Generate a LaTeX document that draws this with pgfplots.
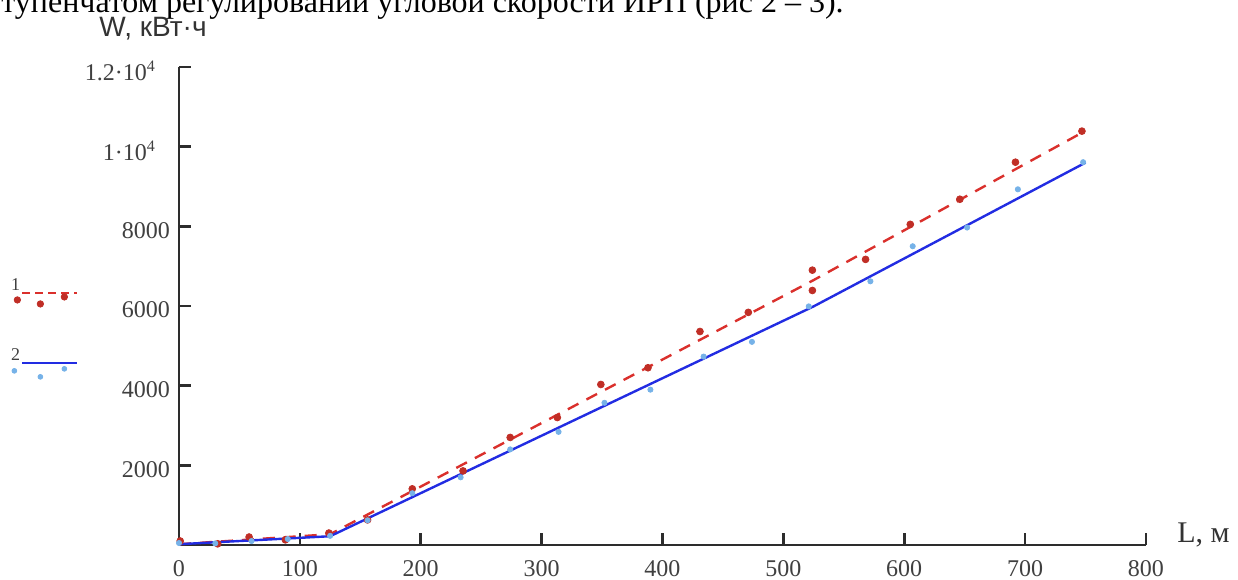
\documentclass[border=0pt]{standalone}
\usepackage{fontspec}
\setmainfont{Liberation Serif}
\newfontfamily\arialfont{Liberation Sans}
\usepackage{pgfplots}
\pgfplotsset{compat=1.18}

\definecolor{redline}{RGB}{218,48,44}
\definecolor{reddot}{RGB}{192,46,38}
\definecolor{blueline}{RGB}{34,44,226}
\definecolor{bluedot}{RGB}{118,178,232}
\definecolor{axgray}{RGB}{45,45,45}

\begin{document}
\begin{tikzpicture}
\useasboundingbox (0,0) rectangle (619pt,289.5pt);
% the cut-off line of body text above the chart
\node[anchor=base west, inner sep=0pt, font=\fontsize{16}{19}\selectfont]
  at (0.5pt,283pt) {тупенчатом регулировании угловой скорости ИРП (рис 2 – 3).};

\begin{axis}[
  at={(89.5pt,17pt)}, anchor=south west,
  scale only axis, width=483.5pt, height=239pt,
  xmin=0, xmax=800, ymin=0, ymax=12000,
  axis lines=left,
  axis line style={-, line width=1.3pt, axgray},
  every tick/.style={line width=1.3pt, axgray},
  xtick align=inside, ytick align=inside, major tick length=6pt,
  scaled y ticks=false, scaled x ticks=false,
  xtick={0,100,200,300,400,500,600,700,800},
  xticklabels={0,100,200,300,400,500,600,700,800},
  ytick={2000,4000,6000,8000,10000,12000},
  yticklabels={2000,4000,6000,8000,{1·10\textsuperscript{4}\rule{7pt}{0pt}},{1.2·10\textsuperscript{4}\rule{7pt}{0pt}}},
  tick label style={font=\fontsize{12}{14}\selectfont, text=black!75},
  xticklabel style={yshift=-4pt},
  yticklabel style={xshift=-1pt, yshift=-2pt},
  clip=false,
  legend plot pos=right,
  legend cell align=right,
  legend style={at={(axis description cs:-0.175,0.5605)}, anchor=north west,
    draw=none, fill=none, inner sep=0pt, row sep=19.5pt, column sep=0pt,
    nodes={inner sep=0.5pt},
    font=\fontsize{9}{10}\selectfont, text=black!75},
]
\addlegendimage{legend image code/.code={
  \draw[redline, line width=1.2pt, dash pattern=on 4pt off 2.5pt] (0pt,0pt) -- (27.5pt,0pt);
  \fill[reddot, overlay] (-2.5pt,-3.5pt) circle (1.6pt);
  \fill[reddot, overlay] (9pt,-5.5pt) circle (1.6pt);
  \fill[reddot, overlay] (21pt,-2pt) circle (1.6pt);}}
\addlegendentry{\raisebox{7pt}{1}}
\addlegendimage{legend image code/.code={
  \draw[blueline, line width=1.2pt] (0pt,0pt) -- (27.5pt,0pt);
  \fill[bluedot, overlay] (-4pt,-4pt) circle (1.2pt);
  \fill[bluedot, overlay] (9pt,-7pt) circle (1.2pt);
  \fill[bluedot, overlay] (21pt,-3pt) circle (1.2pt);}}
\addlegendentry{\raisebox{7pt}{2}}

% 1 - model line (red dashed) and measured points
\addplot[forget plot, redline, line width=1.2pt, dash pattern=on 6pt off 4.5pt] coordinates {
  (0,20) (125,270) (525,6650) (750,10400)
};
\addplot[forget plot, only marks, mark=*, mark size=1.7pt, reddot] coordinates {
  (1,100) (32,30) (58,200) (88,130) (124,300) (156,630) (193,1410) (235,1860)
  (274,2700) (313,3200) (349,4030) (388,4450) (431,5360) (471,5840)
  (524,6900) (524,6390) (568,7170) (605,8050) (646,8680) (692,9610) (747,10390)
};
% 2 - model line (blue) and measured points
\addplot[forget plot, blueline, line width=1.2pt] coordinates {
  (0,20) (125,220) (525,5990) (750,9600)
};
\addplot[forget plot, only marks, mark=*, mark size=1.3pt, bluedot] coordinates {
  (0,50) (30,40) (60,100) (90,150) (125,230) (156,620) (193,1300) (233,1700)
  (274,2400) (314,2840) (352,3570) (390,3900) (434,4730) (474,5100)
  (521,5990) (572,6620) (607,7500) (652,7970) (694,8930) (748,9610)
};
\end{axis}

\node[anchor=base, inner sep=0pt, font=\arialfont\fontsize{14}{16}\selectfont, text=black!80]
  at (76.5pt,271pt) {W, кВт·ч};
\node[anchor=base west, inner sep=0pt, font=\fontsize{15}{17}\selectfont, text=black!80]
  at (588.5pt,18.5pt) {L, м};
\end{tikzpicture}
\end{document}
